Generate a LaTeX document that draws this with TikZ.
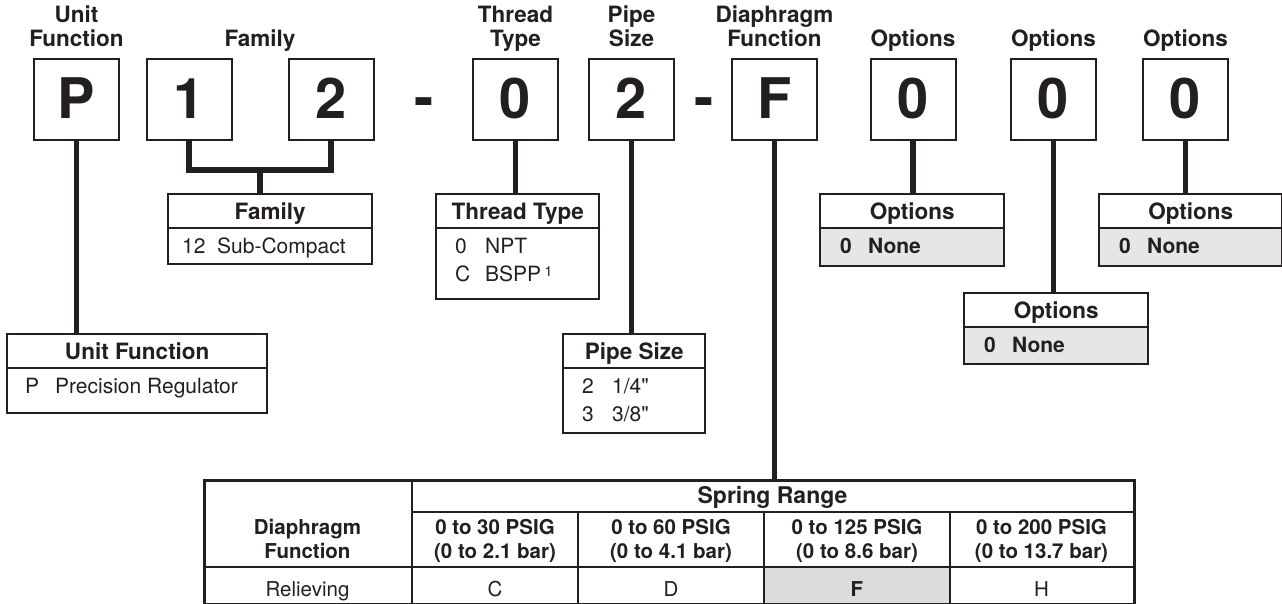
\documentclass[tikz,border=0pt]{standalone}
\usepackage{fontspec}
\setmainfont{TeX Gyre Heros}
\newfontfamily\rawfont{TeX Gyre Heros}[Ligatures=TeXOff]
\definecolor{ink}{RGB}{35,31,32}
\definecolor{optgray}{RGB}{230,230,230}
\definecolor{cellgray}{RGB}{220,220,220}
\begin{document}
\begin{tikzpicture}[x=1pt,y=-1pt,
  toplabel/.style={anchor=base, inner sep=0pt, text=ink, font=\fontsize{22.5}{24}\selectfont\bfseries},
  codebox/.style={draw=ink, line width=2pt, minimum width=85pt, minimum height=81pt, inner sep=0pt,
    text height=40.2pt, text depth=4pt, text=ink, font=\fontsize{56}{56}\selectfont\bfseries},
  dashsign/.style={anchor=base, inner sep=0pt, text=ink, font=\fontsize{58}{58}\selectfont\bfseries},
  infobox/.style={draw=ink, line width=2pt, anchor=north west, inner sep=0pt},
  infohead/.style={draw=ink, line width=2.4pt, fill=white, anchor=north west, inner sep=0pt,
    minimum height=34pt, text height=16pt, text depth=0pt, text=ink,
    font=\fontsize{22.5}{24}\selectfont\bfseries},
  rowtext/.style={anchor=base west, inner sep=0pt, text=ink, font=\fontsize{21}{24}\selectfont},
  rowbold/.style={anchor=base west, inner sep=0pt, text=ink, font=\fontsize{21}{24}\selectfont\bfseries},
  conn/.style={draw=ink, line width=5.5pt, line join=miter},
  tline/.style={draw=ink, line width=2.5pt},
  tbold/.style={anchor=base, inner sep=0pt, text=ink, font=\fontsize{20.5}{24}\selectfont\bfseries},
  tbig/.style={anchor=base, inner sep=0pt, text=ink, font=\fontsize{23}{24}\selectfont\bfseries},
  tplain/.style={anchor=base, inner sep=0pt, text=ink, font=\fontsize{20.5}{24}\selectfont}
]
\useasboundingbox (0,0) rectangle (1282,604);

% ---------- top labels ----------
\node[toplabel] (lUnitA) at (76.5,23) {Unit};
\node[toplabel] (lUnitB) at (76.5,47) {Function};
\node[toplabel] (lFam) at (260,47) {Family};
\node[toplabel] (lThrA) at (515.5,23) {Thread};
\node[toplabel] (lThrB) at (515.5,47) {Type};
\node[toplabel] (lPipeA) at (631.5,23) {Pipe};
\node[toplabel] (lPipeB) at (631.5,47) {Size};
\node[toplabel] (lDiaA) at (774.5,23) {Diaphragm};
\node[toplabel] (lDiaB) at (774.5,47) {Function};
\node[toplabel] (lOpt1) at (913,47) {Options};
\node[toplabel] (lOpt2) at (1053.5,47) {Options};
\node[toplabel] (lOpt3) at (1185.5,47) {Options};

% ---------- code boxes ----------
\node[codebox] (bP) at (76.5,100) {P};
\node[codebox] (b1) at (189,100) {1};
\node[codebox] (b2) at (331,100) {2};
\node[dashsign] (d1) at (424.5,118) {-};
\node[codebox] (b0) at (515.5,100) {0};
\node[codebox] (bS) at (631.5,100) {2};
\node[dashsign] (d2) at (704.5,118) {-};
\node[codebox] (bF) at (774.5,100) {F};
\node[codebox] (o1) at (913,100) {0};
\node[codebox] (o2) at (1053.5,100) {0};
\node[codebox] (o3) at (1185.5,100) {0};

% ---------- Family box ----------
\node[infobox, minimum width=204pt, minimum height=70pt] (famBox) at (167,193) {};
\node[infohead, minimum width=204pt] (famHead) at (167,193) {Family};
\node[rowtext] (famR1) at (182,253) {\makebox[35pt][l]{12}Sub-Compact};

% ---------- Thread Type box ----------
\node[infobox, minimum width=163pt, minimum height=105pt] (thrBox) at (435,193) {};
\node[infohead, minimum width=163pt] (thrHead) at (435,193) {Thread Type};
\node[rowtext] (thrR1) at (455,253) {\makebox[30pt][l]{0}NPT};
\node[rowtext] (thrR2) at (455,281) {\makebox[30pt][l]{C}BSPP\,\raisebox{5pt}{\fontsize{14}{14}\selectfont 1}};

% ---------- Unit Function box ----------
\node[infobox, minimum width=260pt, minimum height=79pt] (unitBox) at (6,333) {};
\node[infohead, minimum width=260pt] (unitHead) at (6,333) {Unit Function};
\node[rowtext] (unitR1) at (25,393) {\makebox[30pt][l]{P}Precision Regulator};

% ---------- Pipe Size box ----------
\node[infobox, minimum width=142pt, minimum height=99pt] (pipeBox) at (562,333) {};
\node[infohead, minimum width=142pt] (pipeHead) at (562,333) {Pipe Size};
\node[rowtext] (pipeR1) at (582,393) {\makebox[30pt][l]{2}1/4{\rawfont"}};
\node[rowtext] (pipeR2) at (582,421) {\makebox[30pt][l]{3}3/8{\rawfont"}};

% ---------- Options boxes ----------
\node[infobox, fill=optgray, minimum width=184pt, minimum height=72pt] (opt1Box) at (819,193) {};
\node[infohead, minimum width=184pt] (opt1Head) at (819,193) {Options};
\node[rowbold] (opt1R1) at (840,253) {\makebox[28pt][l]{0}None};

\node[infobox, fill=optgray, minimum width=184pt, minimum height=71pt] (opt2Box) at (963,292) {};
\node[infohead, minimum width=184pt] (opt2Head) at (963,292) {Options};
\node[rowbold] (opt2R1) at (984,352) {\makebox[28pt][l]{0}None};

\node[infobox, fill=optgray, minimum width=183pt, minimum height=72pt] (opt3Box) at (1098,193) {};
\node[infohead, minimum width=183pt] (opt3Head) at (1098,193) {Options};
\node[rowbold] (opt3R1) at (1119,253) {\makebox[28pt][l]{0}None};

% ---------- Table ----------
\fill[cellgray] (764,567) rectangle (950,603);
\node[draw=ink, line width=2.5pt, anchor=north west, inner sep=0pt,
      minimum width=930pt, minimum height=124pt] (tbl) at (203,479) {};
\draw[tline] (412,479) -- (412,603);
\draw[tline] (412,512) -- (1133,512);
\draw[tline] (203,567) -- (1133,567);
\draw[tline] (578,512) -- (578,603);
\draw[tline] (764,512) -- (764,603);
\draw[tline] (950,512) -- (950,603);

\node[tbig] (tSpring) at (772.5,503) {Spring Range};
\node[tbold] (tDiaA) at (307.5,534) {Diaphragm};
\node[tbold] (tDiaB) at (307.5,558) {Function};
\node[tbold] (tC1a) at (495,534) {0 to 30 PSIG};
\node[tbold] (tC1b) at (495,558) {(0 to 2.1 bar)};
\node[tbold] (tC2a) at (671,534) {0 to 60 PSIG};
\node[tbold] (tC2b) at (671,558) {(0 to 4.1 bar)};
\node[tbold] (tC3a) at (857,534) {0 to 125 PSIG};
\node[tbold] (tC3b) at (857,558) {(0 to 8.6 bar)};
\node[tbold] (tC4a) at (1041.5,534) {0 to 200 PSIG};
\node[tbold] (tC4b) at (1041.5,558) {(0 to 13.7 bar)};
\node[tplain] (tRel) at (307.5,596) {Relieving};
\node[tplain] (tC) at (495,596) {C};
\node[tplain] (tD) at (671,596) {D};
\node[tbold] (tF) at (857,596) {F};
\node[tplain] (tH) at (1041.5,596) {H};

% ---------- connectors ----------
\draw[conn] (bP.south) -- (bP.south |- unitHead.north);
\coordinate (famJ) at (260,170);
\draw[conn] (b1.south) |- (famJ) -| (b2.south);
\draw[conn] (famJ) -- (famJ |- famHead.north);
\draw[conn] (b0.south) -- (b0.south |- thrHead.north);
\draw[conn] (bS.south) -- (bS.south |- pipeHead.north);
\draw[conn] (bF.south) -- (bF.south |- tbl.north);
\draw[conn] (o1.south) -- (o1.south |- opt1Head.north);
\draw[conn] (o2.south) -- (o2.south |- opt2Head.north);
\draw[conn] (o3.south) -- (o3.south |- opt3Head.north);
\end{tikzpicture}
\end{document}
